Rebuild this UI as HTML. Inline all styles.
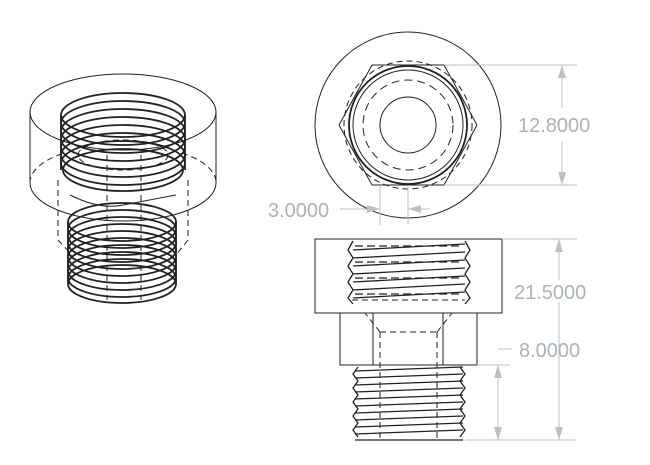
<!DOCTYPE html>
<html><head><meta charset="utf-8"><style>
html,body{margin:0;padding:0;background:#fff;}
svg{display:block;}
text{font-family:"Liberation Sans",sans-serif;fill:#a9b3ba;font-size:20px;}
</style></head><body>
<svg width="650" height="465" viewBox="0 0 650 465" xmlns="http://www.w3.org/2000/svg">
<g fill="none" stroke="#222" stroke-width="1">
<!-- ISO view -->
<ellipse cx="123" cy="112" rx="93" ry="38"/>
<path d="M30 112 V183 M216 112 V183"/>
<path d="M30 183 A93 38 0 0 0 216 183"/>
<path d="M30 183 A93 38 0 0 1 64 153 M182 153 A93 38 0 0 1 216 183" stroke-dasharray="6 4"/>
<path d="M58 180 V240 L72 255 M188 180 V240 L176 255" stroke-dasharray="6 4"/>
<g stroke-width="1.8">
<ellipse cx="123" cy="115" rx="62" ry="22"/>
<ellipse cx="123" cy="123" rx="62" ry="22"/>
<ellipse cx="123" cy="131" rx="62" ry="22"/>
<ellipse cx="123" cy="139" rx="62" ry="22"/>
<ellipse cx="123" cy="147" rx="62" ry="22"/>
<ellipse cx="123" cy="155" rx="62" ry="22"/>
<ellipse cx="123" cy="163" rx="62" ry="22"/>
<ellipse cx="123" cy="170" rx="60" ry="21"/>
<path d="M61 115 V170 M185 115 V170"/>
<ellipse cx="122" cy="222" rx="54" ry="19"/>
<ellipse cx="122" cy="229" rx="54" ry="19"/>
<ellipse cx="122" cy="236" rx="54" ry="19"/>
<ellipse cx="122" cy="243" rx="54" ry="19"/>
<ellipse cx="122" cy="250" rx="54" ry="19"/>
<ellipse cx="122" cy="257" rx="54" ry="19"/>
<ellipse cx="122" cy="264" rx="54" ry="19"/>
<ellipse cx="122" cy="271" rx="54" ry="19"/>
<ellipse cx="122" cy="278" rx="54" ry="19"/>
<ellipse cx="122" cy="284" rx="54" ry="19"/>
<path d="M68 222 V284 M176 222 V284"/>
</g>
<ellipse cx="123" cy="155" rx="45" ry="15" stroke-dasharray="6 4"/>
<path d="M107 155 V300 M141 155 V300" stroke-dasharray="6 4"/>
<path d="M70 195 Q100 210 123 205 Q150 200 176 195"/>

<!-- Top view -->
<circle cx="408" cy="125" r="93"/>
<polygon points="372,65 444,65 477,125 444,185 372,185 339,125"/>
<circle cx="408" cy="125" r="59" stroke-width="1.8"/>
<circle cx="408" cy="125" r="55"/>
<circle cx="408" cy="125" r="64" stroke-dasharray="6 4"/>
<circle cx="408" cy="125" r="45" stroke-dasharray="8 5"/>
<circle cx="408" cy="125" r="28"/>

<!-- Front view -->
<rect x="315" y="239" width="187" height="74"/>
<rect x="340" y="313" width="137" height="52"/>
<path d="M373 313 V365 M443 313 V365"/>
<path d="M380 332 H437 M380 332 V440 M437 332 V440 M380 332 L365 313 M437 332 L452 313 M352 300 H465" stroke-dasharray="6 4"/>
<g stroke-width="1.3">
<path d="M353 241 L348 250 L353 258 L348 266 L353 274 L348 282 L353 290 L348 298 L353 304"/>
<path d="M465 241 L470 250 L465 258 L470 266 L465 274 L470 282 L465 290 L470 298 L465 304"/>
<path d="M353 250 L465 244 M353 258 L465 252 M353 266 L465 260 M353 274 L465 268 M353 282 L465 276 M353 290 L465 284 M353 298 L465 292"/>
<path d="M355 246 H463 M355 262 H463 M355 278 H463 M355 294 H463" stroke-dasharray="8 4"/>
<path d="M358 367 L353 374 L358 381 L353 388 L358 395 L353 402 L358 409 L353 416 L358 423 L353 430 L358 437"/>
<path d="M460 367 L465 374 L460 381 L465 388 L460 395 L465 402 L460 409 L465 416 L460 423 L465 430 L460 437"/>
<path d="M355 371 L463 367 M355 378 L463 374 M355 385 L463 381 M355 392 L463 388 M355 399 L463 395 M355 406 L463 402 M355 413 L463 409 M355 420 L463 416 M355 427 L463 423 M355 434 L463 430 M355 440 H463"/>
</g>
</g>

<!-- Dimensions -->
<g stroke="#b8c2c8" stroke-width="1" fill="none">
<path d="M444 65 H577 M444 185 H577 M562 65 V108 M562 142 V185"/>
<path d="M502 239 H577 M465 440 H577 M559 239 V280 M559 302 V440"/>
<path d="M477 365 H510 M498 365 V440 M498 349 H512"/>
<path d="M380 185 V225 M408 185 V225 M340 209 H380 M408 209 H430"/>
</g>
<g fill="#b8c2c8">
<polygon points="562,65 558,78 566,78"/><polygon points="562,185 558,172 566,172"/>
<polygon points="559,239 555,252 563,252"/><polygon points="559,440 555,427 563,427"/>
<polygon points="498,365 494,378 502,378"/><polygon points="498,440 494,427 502,427"/>
<polygon points="380,209 367,205 367,213"/><polygon points="408,209 421,205 421,213"/>
</g>
<text x="518" y="132">12.8000</text>
<text x="268" y="217">3.0000</text>
<text x="514" y="299">21.5000</text>
<text x="519" y="357">8.0000</text>
</svg>
</body></html>
